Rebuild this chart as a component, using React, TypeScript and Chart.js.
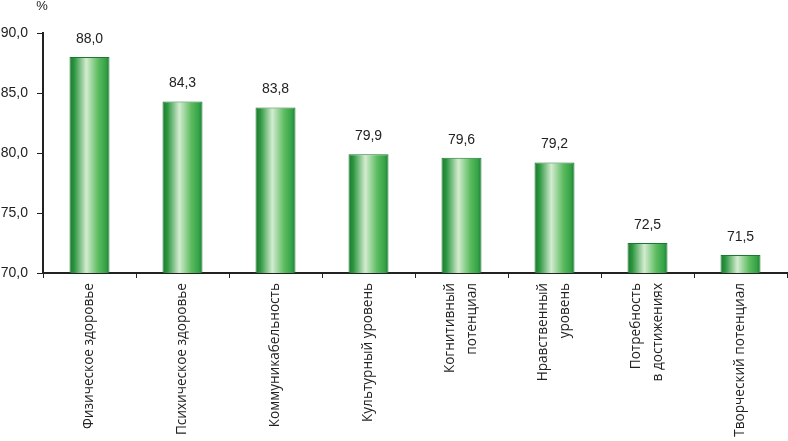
import React, { useEffect, useRef } from "react";
import { Chart, registerables } from "chart.js";

Chart.register(...registerables);

const categories: string[][] = [
  ["Физическое здоровье"],
  ["Психическое здоровье"],
  ["Коммуникабельность"],
  ["Культурный уровень"],
  ["Когнитивный", "потенциал"],
  ["Нравственный", "уровень"],
  ["Потребность", "в достижениях"],
  ["Творческий потенциал"],
];
const values: number[] = [88.0, 84.3, 83.8, 79.9, 79.6, 79.2, 72.5, 71.5];
const yMin = 70;
const yMax = 90;
const yStep = 5;
const unitLabel = "%";

const FONT = "'Liberation Sans', Arial, sans-serif";
const LABEL_FONT = "'Open Sans', sans-serif";
const LABEL_SIZE = 13.6;
const LABEL_LINE = 22;
const BAR_PCT = 0.43;

const fmt = (v: number) => v.toFixed(1).replace(".", ",");

export default function App() {
  const ref = useRef<HTMLCanvasElement | null>(null);
  useEffect(() => {
    document.body.style.margin = "0";
    const canvas = ref.current!;
    const overlay = {
      id: "overlay",
      afterDatasetsDraw(chart: any) {
        const ctx = chart.ctx;
        const meta = chart.getDatasetMeta(0);
        ctx.save();
        ctx.fillStyle = "#222";
        ctx.font = `14px ${FONT}`;
        ctx.textAlign = "center";
        ctx.textBaseline = "bottom";
        meta.data.forEach((bar: any, i: number) => {
          ctx.fillText(fmt(values[i]), bar.x, bar.y - 11);
        });
        const ys = chart.scales.y;
        ctx.textAlign = "center";
        ctx.textBaseline = "middle";
        ctx.font = `13px ${FONT}`;
        ctx.fillText(unitLabel, ys.right - 1, 6);

        // category labels, rotated, lines centred on the category
        const xs = chart.scales.x;
        ctx.font = `${LABEL_SIZE}px ${LABEL_FONT}`;
        ctx.textAlign = "right";
        ctx.textBaseline = "middle";
        const top = xs.top + 10;
        categories.forEach((lines, i) => {
          const cx = xs.getPixelForValue(i);
          const n = lines.length;
          lines.forEach((line, j) => {
            const lx = cx + (j - (n - 1) / 2) * LABEL_LINE;
            ctx.save();
            ctx.translate(lx, top);
            ctx.rotate(-Math.PI / 2);
            ctx.fillText(line, 0, 0);
            ctx.restore();
          });
        });
        ctx.restore();
      },
    };
    const chart = new Chart(canvas, {
      type: "bar",
      data: {
        labels: categories,
        datasets: [
          {
            data: values,
            backgroundColor: (c: any) => {
              const ch = c.chart;
              const xs = ch.scales && ch.scales.x;
              if (!xs || !ch.chartArea) return "#3aa549";
              const cx = xs.getPixelForValue(c.dataIndex);
              const w = (xs.width / categories.length) * BAR_PCT;
              const g = ch.ctx.createLinearGradient(cx - w / 2, 0, cx + w / 2, 0);
              g.addColorStop(0, "#1b772e");
              g.addColorStop(0.12, "#2c963f");
              g.addColorStop(0.42, "#d3ecd0");
              g.addColorStop(0.72, "#5cbb5f");
              g.addColorStop(0.9, "#36a448");
              g.addColorStop(1, "#1e8033");
              return g;
            },
            borderColor: "#1d7830",
            borderWidth: 1,
            categoryPercentage: 1,
            barPercentage: BAR_PCT,
          },
        ],
      },
      options: {
        responsive: false,
        animation: false,
        layout: { padding: { top: 33, right: 1, left: 0, bottom: 0 } },
        plugins: { legend: { display: false }, tooltip: { enabled: false } },
        scales: {
          x: {
            grid: {
              display: true,
              drawOnChartArea: false,
              offset: true,
              color: "#222",
              tickLength: 5,
              lineWidth: 1,
            },
            border: { display: true, color: "#222", width: 2 },
            ticks: { display: false, autoSkip: false },
            afterFit: (s: any) => {
              s.height = 441 - 273;
            },
          },
          y: {
            min: yMin,
            max: yMax,
            grid: {
              display: true,
              drawOnChartArea: false,
              color: "#222",
              tickLength: 6,
            },
            border: { display: true, color: "#222", width: 2 },
            ticks: {
              stepSize: yStep,
              color: "#222",
              font: { family: FONT, size: 14 },
              padding: 9,
              callback: (v: any) => fmt(Number(v)),
            },
            afterFit: (s: any) => {
              s.width = 43;
            },
          },
        },
      },
      plugins: [overlay],
    });
    return () => chart.destroy();
  }, []);
  return (
    <div style={{ width: 788, height: 441 }}>
      <canvas ref={ref} width={788} height={441} style={{ display: "block" }} />
    </div>
  );
}
